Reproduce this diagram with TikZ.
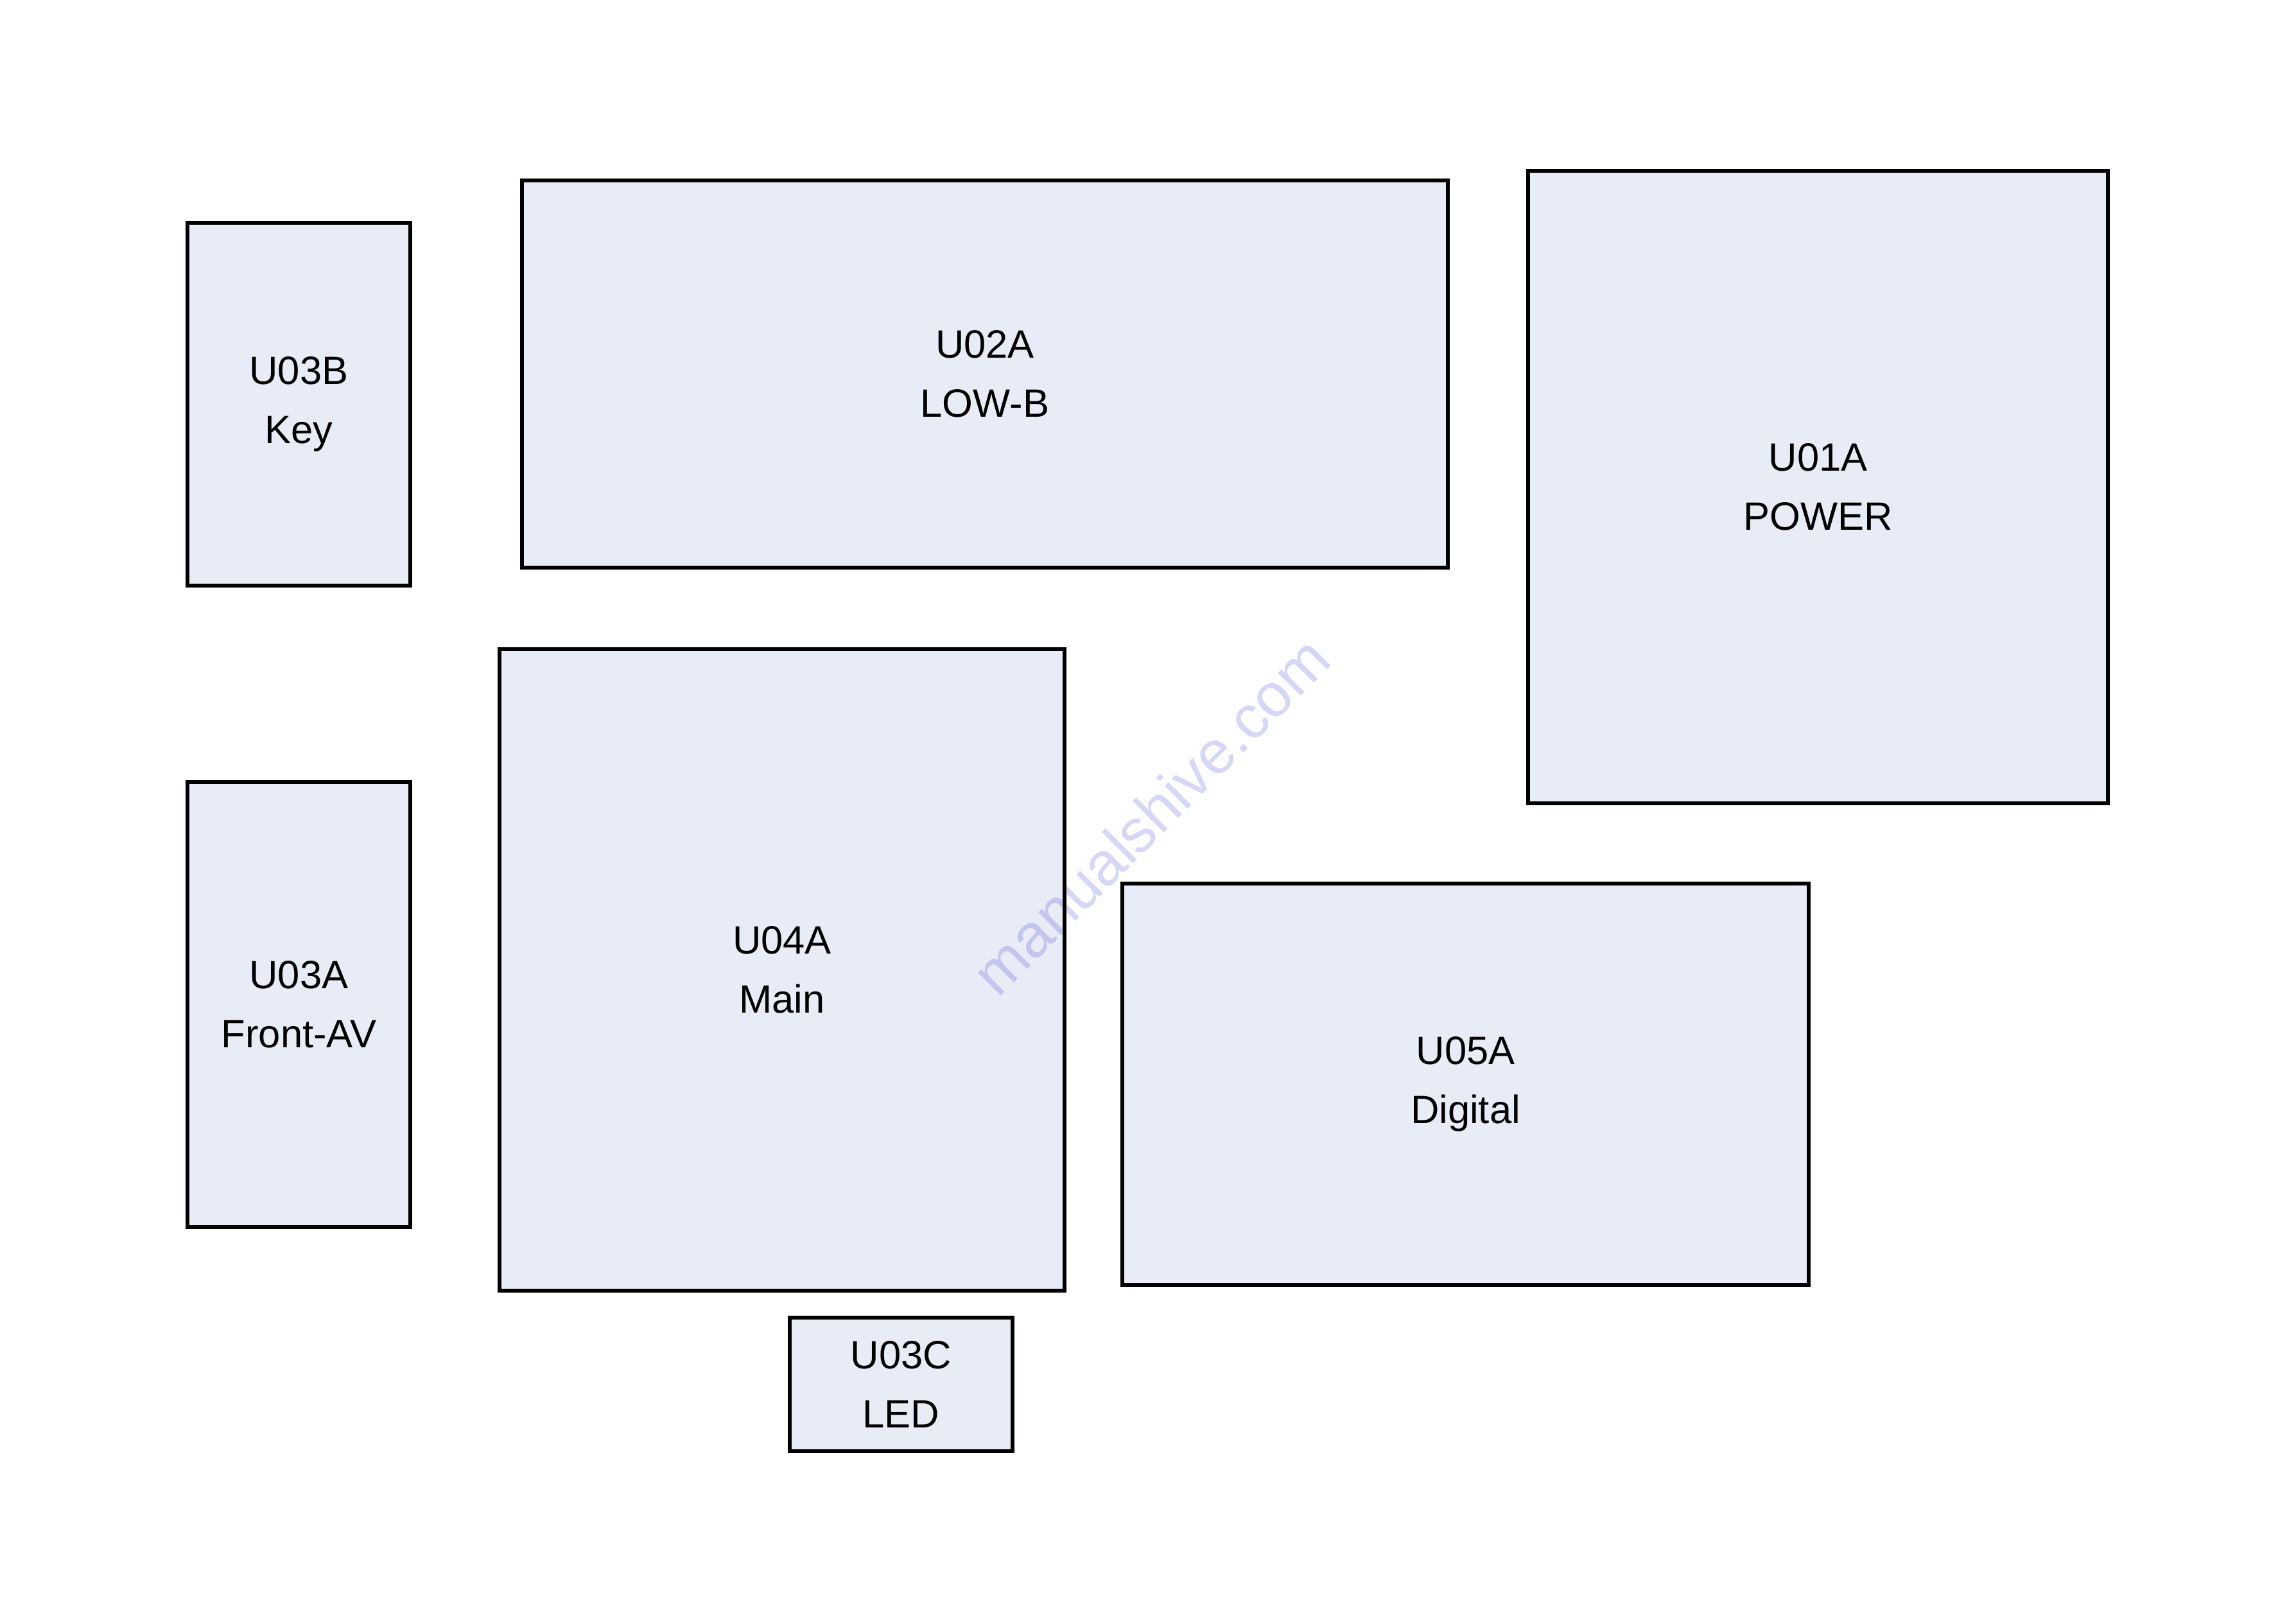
\documentclass[tikz,border=0pt]{standalone}
\usepackage{fontspec}
\setmainfont{Liberation Sans}
\usetikzlibrary{positioning}
\definecolor{boxfill}{RGB}{232,236,246}
\definecolor{wmark}{RGB}{214,214,246}
\tikzset{
  board/.style={draw=black, fill=boxfill, line width=1.7pt, inner sep=0pt,
    align=center, font=\fontsize{17.5pt}{26pt}\selectfont},
  wmtext/.style={text=wmark, font=\fontsize{27pt}{29pt}\selectfont, rotate=45, inner sep=0pt}
}
\begin{document}
\begin{tikzpicture}
\useasboundingbox (0,0) rectangle (35.76,-25.26);
\node[board, minimum width=3.47cm, minimum height=5.65cm] (u03b) at (4.655,-6.295) {U03B\\Key};
\node[board, minimum width=14.42cm, minimum height=6.03cm] (u02a) at (15.34,-5.825) {U02A\\LOW-B};
\node[board, minimum width=9.03cm, minimum height=9.85cm] (u01a) at (28.315,-7.585) {U01A\\POWER};
\node[board, minimum width=8.80cm, minimum height=9.99cm] (u04a) at (12.18,-15.105) {U04A\\Main};
\node[board, minimum width=3.47cm, minimum height=6.93cm] (u03a) at (4.655,-15.645) {U03A\\Front-AV};
\node[board, minimum width=10.69cm, minimum height=6.25cm] (u05a) at (22.825,-16.885) {U05A\\Digital};
\node[board, minimum width=3.47cm, minimum height=2.08cm] (u03c) at (14.035,-21.56) {U03C\\LED};
\begin{scope}[blend mode=multiply]
\node[wmtext] (wm) at (17.92,-12.70) {manualshive.com};
\end{scope}
\end{tikzpicture}
\end{document}
